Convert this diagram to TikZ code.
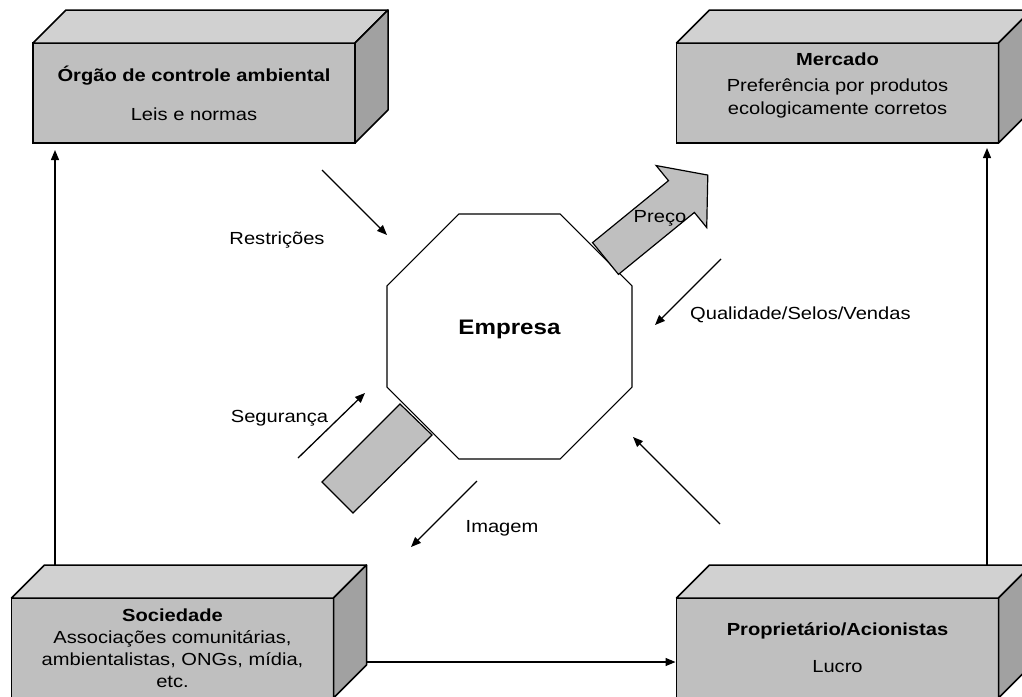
\documentclass[tikz,border=0pt]{standalone}
\usepackage{fontspec}
\setmainfont{Liberation Sans}[FakeStretch=1.15]
\usetikzlibrary{calc,shapes.geometric,arrows.meta}

\definecolor{frente}{gray}{0.75}
\definecolor{topo}{gray}{0.82}
\definecolor{lado}{gray}{0.63}

\tikzset{
  caixa/.style={draw, line width=1.5pt, fill=frente, minimum width=322pt, minimum height=100pt,
    align=center, inner sep=0pt, outer sep=0pt},
  seta/.style={line width=1.3pt, -{Triangle[length=10pt,width=8pt]}},
  rotulo/.style={inner sep=0pt},
}

% top and right faces of a box
\newcommand{\faces}[1]{%
  \filldraw[fill=topo, line width=1.5pt, line join=round] (#1.north west) -- ++(33,-33)
    -- ($(#1.north east)+(33,-33)$) -- (#1.north east) -- cycle;
  \filldraw[fill=lado, line width=1.5pt, line join=round] (#1.north east) -- ++(33,-33)
    -- ($(#1.south east)+(33,-33)$) -- (#1.south east) -- cycle;
}

\begin{document}
\begin{tikzpicture}[x=1pt,y=-1pt,font=\fontsize{17.5}{22}\selectfont]
  \useasboundingbox (0,0) rectangle (1022,696);
  \clip (0,0) rectangle (1022,696);

  % Boxes
  \node[caixa] (orgao) at (194,93) {\textbf{Órgão de controle ambiental}\\[17pt]Leis e normas};
  \faces{orgao}
  \node[caixa] (mercado) at (837.5,93) {\begin{tabular}{@{}c@{}}\textbf{Mercado}\\[4pt]
    Preferência por produtos\\[1pt]ecologicamente corretos\\[14pt]\end{tabular}};
  \faces{mercado}
  \node[caixa] (sociedade) at (172.5,648) {\textbf{Sociedade}\\Associações comunitárias,\\
    ambientalistas, ONGs, mídia,\\etc.};
  \faces{sociedade}
  \node[caixa] (proprietario) at (837.5,648) {\textbf{Proprietário/Acionistas}\\[15pt]Lucro};
  \faces{proprietario}

  % Links between the boxes
  \coordinate (socback) at (55,565);
  \coordinate (propback) at (987,565);
  \coordinate (soclado) at (366,662);
  \draw[seta, shorten >=7pt] (socback) -- (socback |- orgao.south);
  \draw[seta, shorten >=5pt] (propback) -- (propback |- mercado.south);
  \draw[seta, shorten >=1pt] (soclado) -- (soclado -| proprietario.west);

  % Company
  \node[draw, regular polygon, regular polygon sides=8, minimum size=265pt, line width=1.2pt,
    inner sep=0pt, outer sep=0pt, font=\fontsize{21}{24}\selectfont\bfseries] (empresa)
    at (509.5,336.5) {\raisebox{19pt}{Empresa}};

  % Price (block arrow) and image block
  \begin{scope}[shift={(605.5,258.5)}, rotate=39.2]
    \filldraw[fill=frente, line width=1.2pt] (0,-20.5) -- (98,-20.5) -- (98,-40) -- (132,0)
      -- (98,40) -- (98,20.5) -- (0,20.5) -- cycle;
  \end{scope}
  \filldraw[fill=frente, line width=1.2pt] (400,404) -- (432,435) -- (353,513) -- (322,482) -- cycle;

  % Small arrows
  \coordinate (restA) at (322,170);  \coordinate (restB) at (387,235);
  \coordinate (segA) at (298,458);   \coordinate (segB) at (365,393);
  \coordinate (qualA) at (721,259);  \coordinate (qualB) at (655,325);
  \coordinate (imgA) at (477,481);   \coordinate (imgB) at (411,547);
  \coordinate (lucA) at (720,524);   \coordinate (lucB) at (633,437);
  \draw[seta] (restA) -- (restB);
  \draw[seta] (segA) -- (segB);
  \draw[seta] (qualA) -- (qualB);
  \draw[seta] (imgA) -- (imgB);
  \draw[seta] (lucA) -- (lucB);

  % Labels
  \node[rotulo] (restricoes) at (277,240) {Restrições};
  \node[rotulo] (seguranca) at (279.5,418) {Segurança};
  \node[rotulo, anchor=west] (qualidade) at (690,315) {Qualidade/Selos/Vendas};
  \node[rotulo] (imagem) at (502,528) {Imagem};
  \node[rotulo] (preco) at (660,218) {Preço};
\end{tikzpicture}
\end{document}
